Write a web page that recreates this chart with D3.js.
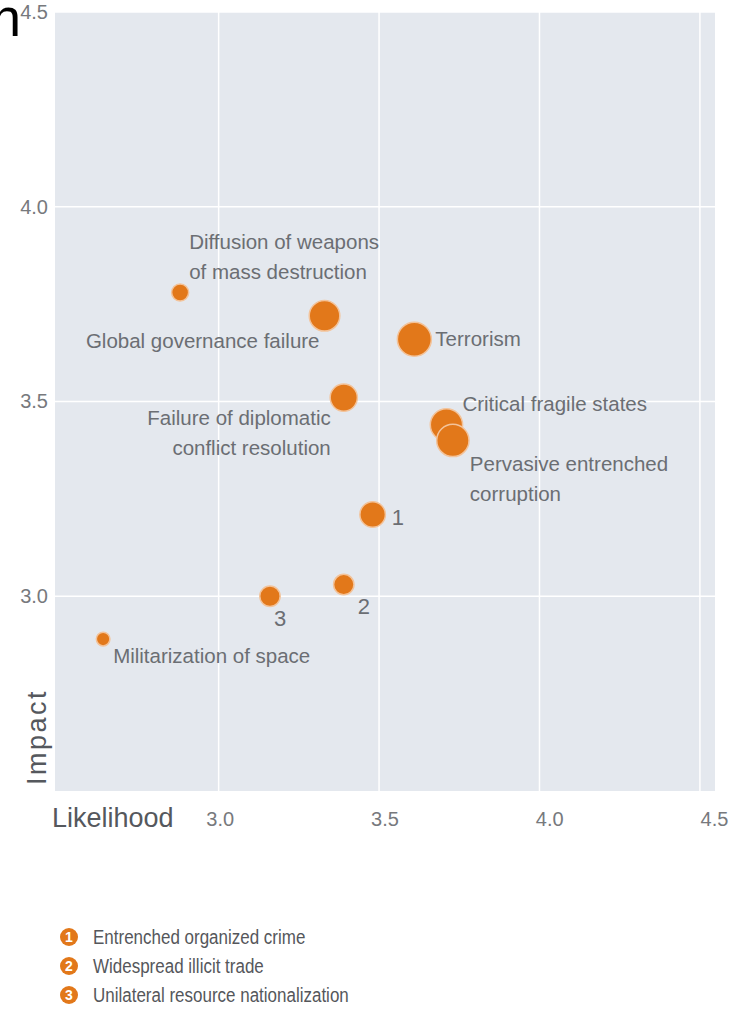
<!DOCTYPE html>
<html>
<head>
<meta charset="utf-8">
<script src="https://cdn.jsdelivr.net/npm/d3@7"></script>
<style>
  body { margin: 0; background: #fff; }
  svg { display: block; font-family: "Liberation Sans", Arial, sans-serif; }
</style>
</head>
<body>
<svg id="chart" width="733" height="1014"></svg>
<script>
const risks = [
  "Diffusion of weapons of mass destruction", "Global governance failure", "Terrorism",
  "Failure of diplomatic conflict resolution", "Critical fragile states",
  "Pervasive entrenched corruption", "Entrenched organized crime",
  "Widespread illicit trade", "Unilateral resource nationalization", "Militarization of space"
];
const likelihood = [2.88, 3.33, 3.61, 3.39, 3.71, 3.73, 3.48, 3.39, 3.16, 2.64];
const impact = [3.78, 3.72, 3.66, 3.51, 3.44, 3.40, 3.21, 3.03, 3.00, 2.89];
const connections = [5, 9, 10, 8, 9.5, 9.5, 7.5, 6, 6, 4];
const pointLabels = [
  ["Diffusion of weapons", "of mass destruction"], ["Global governance failure"], ["Terrorism"],
  ["Failure of diplomatic", "conflict resolution"], ["Critical fragile states"],
  ["Pervasive entrenched", "corruption"], ["1"], ["2"], ["3"], ["Militarization of space"]
];
const legendItems = ["Entrenched organized crime", "Widespread illicit trade", "Unilateral resource nationalization"];
const xTicks = [3.0, 3.5, 4.0, 4.5];
const yTicks = [3.0, 3.5, 4.0, 4.5];

// where each label sits relative to its bubble
const labelPlace = [
  { anchor: "start", dx: 9, dy: -43 },
  { anchor: "end", dx: -5, dy: 32 },
  { anchor: "start", dx: 21, dy: 7 },
  { anchor: "end", dx: -13, dy: 27 },
  { anchor: "start", dx: 16, dy: -14 },
  { anchor: "start", dx: 17, dy: 31 },
  { anchor: "start", dx: 19, dy: 11 },
  { anchor: "start", dx: 14, dy: 29 },
  { anchor: "start", dx: 4, dy: 30 },
  { anchor: "start", dx: 10, dy: 24 }
];

const svg = d3.select("#chart");
const plot = { left: 55, right: 715, top: 12, bottom: 791 };
const orange = "#e2781a";
const textGrey = "#6b6e73";

const x = d3.scaleLinear().domain([2.49, 4.547]).range([plot.left, plot.right]);
const xLabel = d3.scaleLinear().domain([2.5, 4.5]).range([plot.left, 714]);
const y = d3.scaleLinear().domain([2.5, 4.5]).range([plot.bottom, plot.top]);
const r = d3.scaleLinear().domain([0, 10]).range([0, 17]);

const data = risks.map((name, i) => ({
  name, x: likelihood[i], y: impact[i], size: connections[i],
  lines: pointLabels[i], place: labelPlace[i]
}));

// cropped title letter from the page above
svg.append("text")
  .attr("x", -9).attr("y", 36)
  .attr("font-size", 54)
  .attr("fill", "#000")
  .text("n");

svg.append("rect")
  .attr("x", plot.left).attr("y", plot.top)
  .attr("width", plot.right - plot.left).attr("height", plot.bottom - plot.top)
  .attr("fill", "#e4e8ee");

const grid = svg.append("g").attr("stroke", "#fff").attr("stroke-width", 1.5);
grid.selectAll("line.v").data(xTicks).join("line").attr("class", "v")
  .attr("x1", d => x(d)).attr("x2", d => x(d))
  .attr("y1", plot.top).attr("y2", plot.bottom);
grid.selectAll("line.h").data(yTicks).join("line").attr("class", "h")
  .attr("x1", plot.left).attr("x2", plot.right)
  .attr("y1", d => y(d)).attr("y2", d => y(d));

const xAxisG = svg.append("g")
  .attr("transform", `translate(0,${plot.bottom})`)
  .call(d3.axisBottom(xLabel).tickValues(xTicks).tickFormat(d3.format(".1f")).tickSize(0).tickPadding(21));
const yAxisG = svg.append("g")
  .attr("transform", `translate(${plot.left},0)`)
  .call(d3.axisLeft(y).tickValues(yTicks).tickFormat(d3.format(".1f")).tickSize(0).tickPadding(7));
[xAxisG, yAxisG].forEach(a => {
  a.select(".domain").remove();
  a.selectAll("text").attr("font-size", 20).attr("fill", "#77797d")
    .attr("font-family", "\"Liberation Sans\", Arial, sans-serif");
});

svg.append("text")
  .attr("x", 52).attr("y", 827)
  .attr("font-size", 27).attr("fill", "#55585d")
  .text("Likelihood");
svg.append("text")
  .attr("transform", "translate(46,785) rotate(-90)")
  .attr("font-size", 27).attr("fill", "#55585d")
  .attr("letter-spacing", 2.5)
  .text("Impact");

svg.append("g").selectAll("circle").data(data).join("circle")
  .attr("cx", d => x(d.x)).attr("cy", d => y(d.y)).attr("r", d => r(d.size))
  .attr("fill", orange).attr("stroke", "#f3c39a").attr("stroke-width", 1.5);

const labels = svg.append("g").selectAll("text").data(data).join("text")
  .attr("x", d => x(d.x) + d.place.dx)
  .attr("y", d => y(d.y) + d.place.dy)
  .attr("text-anchor", d => d.place.anchor)
  .attr("font-size", d => d.lines[0].length === 1 ? 22 : 20.5)
  .attr("fill", textGrey);
labels.selectAll("tspan").data(d => d.lines.map(t => ({ t, d }))).join("tspan")
  .attr("x", p => x(p.d.x) + p.d.place.dx)
  .attr("dy", (p, i) => i === 0 ? 0 : 30)
  .text(p => p.t);

const legend = svg.append("g").selectAll("g").data(legendItems).join("g")
  .attr("transform", (d, i) => `translate(69,${937 + i * 29})`);
legend.append("circle").attr("r", 9).attr("fill", orange);
legend.append("text")
  .attr("text-anchor", "middle").attr("y", 5)
  .attr("font-size", 14).attr("font-weight", "bold").attr("fill", "#fff")
  .text((d, i) => i + 1);
legend.append("text")
  .attr("x", 24).attr("y", 6)
  .attr("font-size", 17).attr("fill", "#55575b")
  .attr("transform", "scale(1,1.15)")
  .text(d => d);
</script>
</body>
</html>
